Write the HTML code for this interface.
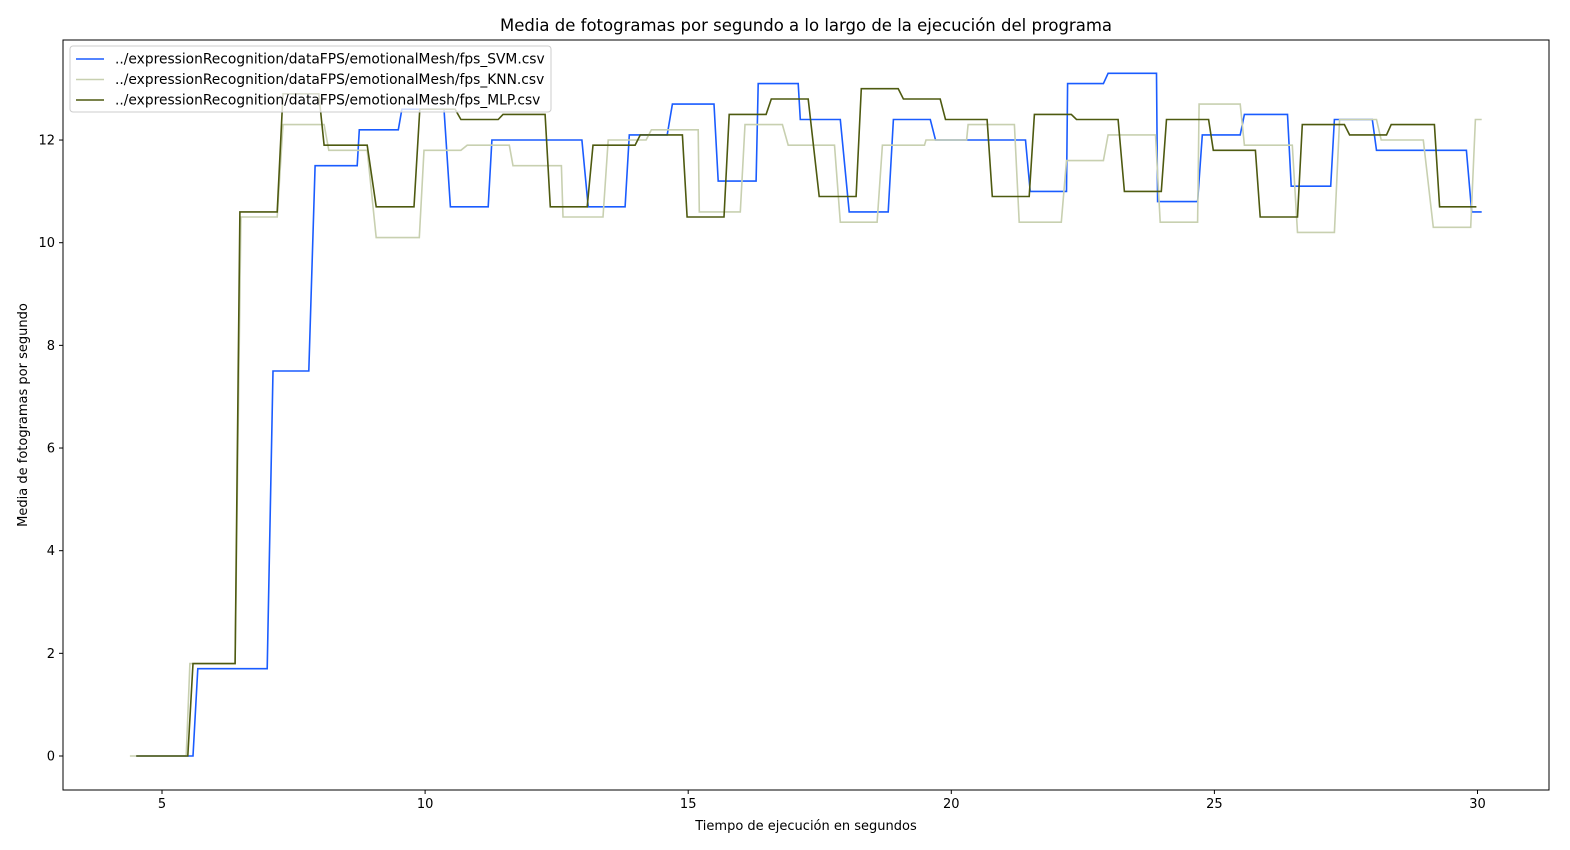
<!DOCTYPE html>
<html><head><meta charset="utf-8"><style>
body{margin:0;background:#fff;}
svg{display:block;font-family:"DejaVu Sans","Liberation Sans",sans-serif;}
</style></head><body>
<svg id="chart" width="1570" height="850">
<rect x="0" y="0" width="1570" height="850" fill="#fff"/>
<text x="806" y="31" text-anchor="middle" font-size="16.5">Media de fotogramas por segundo a lo largo de la ejecución del programa</text>
<text x="806" y="830" text-anchor="middle" font-size="13">Tiempo de ejecución en segundos</text>
<text transform="translate(27,415) rotate(-90)" text-anchor="middle" font-size="13">Media de fotogramas por segundo</text>
<g id="plot"></g>
</svg>
<script>
const xTicks=[5,10,15,20,25,30];
const yTicks=[0,2,4,6,8,10,12];
const seriesNames=["../expressionRecognition/dataFPS/emotionalMesh/fps_SVM.csv","../expressionRecognition/dataFPS/emotionalMesh/fps_KNN.csv","../expressionRecognition/dataFPS/emotionalMesh/fps_MLP.csv"];
const svmSegs=[[4.51,5.59,0],[5.68,7.00,1.7],[7.11,7.79,7.5],[7.91,8.71,11.5],[8.75,9.49,12.2],[9.56,10.36,12.6],[10.48,11.20,10.7],[11.27,12.98,12.0],[13.10,13.80,10.7],[13.88,14.60,12.1],[14.70,15.49,12.7],[15.57,16.29,11.2],[16.33,17.09,13.1],[17.13,17.89,12.4],[18.06,18.80,10.6],[18.90,19.60,12.4],[19.70,21.41,12.0],[21.50,22.19,11.0],[22.21,22.89,13.1],[22.98,23.90,13.3],[23.92,24.68,10.8],[24.77,25.49,12.1],[25.57,26.39,12.5],[26.46,27.21,11.1],[27.28,28.00,12.4],[28.08,29.79,11.8],[29.89,30.08,10.6]];
const knnSegs=[[4.39,5.46,0],[5.53,6.39,1.8],[6.50,7.19,10.5],[7.30,8.08,12.3],[8.17,8.90,11.8],[9.07,9.89,10.1],[9.98,10.68,11.8],[10.80,11.60,11.9],[11.67,12.59,11.5],[12.62,13.38,10.5],[13.48,14.20,12.0],[14.30,15.19,12.2],[15.21,15.99,10.6],[16.08,16.79,12.3],[16.90,17.78,11.9],[17.89,18.59,10.4],[18.69,19.49,11.9],[19.52,20.29,12.0],[20.32,21.20,12.3],[21.29,22.09,10.4],[22.19,22.89,11.6],[22.98,23.88,12.1],[23.97,24.68,10.4],[24.71,25.49,12.7],[25.57,26.48,11.9],[26.58,27.28,10.2],[27.38,28.08,12.4],[28.17,28.97,12.0],[29.16,29.87,10.3],[29.96,30.08,12.4]];
const mlpSegs=[[4.51,5.49,0],[5.59,6.39,1.8],[6.48,7.19,10.6],[7.30,7.98,12.9],[8.08,8.90,11.9],[9.07,9.79,10.7],[9.90,10.57,12.6],[10.68,11.39,12.4],[11.48,12.28,12.5],[12.38,13.08,10.7],[13.19,13.99,11.9],[14.09,14.89,12.1],[14.98,15.68,10.5],[15.78,16.48,12.5],[16.58,17.28,12.8],[17.49,18.19,10.9],[18.29,18.99,13.0],[19.09,19.79,12.8],[19.89,20.68,12.4],[20.78,21.48,10.9],[21.58,22.28,12.5],[22.38,23.17,12.4],[23.29,23.99,11.0],[24.09,24.89,12.4],[24.98,25.78,11.8],[25.87,26.58,10.5],[26.67,27.47,12.3],[27.57,28.27,12.1],[28.36,29.18,12.3],[29.28,29.98,10.7]];

const L=63,R=1549,T=40,B=790;
const xs=v=>162+(v-5)*52.62;
const ys=v=>756-v*51.33;
const NS="http://www.w3.org/2000/svg";
const g=document.getElementById('plot');
function mk(t,a){const e=document.createElementNS(NS,t);for(const k in a)e.setAttribute(k,a[k]);g.appendChild(e);return e;}

const colors=["#1a5cff","#c8d0b0","#4e5a10"];
[svmSegs,knnSegs,mlpSegs].forEach((segs,i)=>{
  let d="";
  segs.forEach((s,j)=>{d+=(j?"L":"M")+xs(s[0]).toFixed(1)+","+ys(s[2]).toFixed(1)+"L"+xs(s[1]).toFixed(1)+","+ys(s[2]).toFixed(1);});
  const p=mk('path',{d:d,fill:"none",stroke:colors[i],"stroke-width":1.6});
  
  
});

const frame=mk('rect',{x:L,y:T,width:R-L,height:B-T,fill:"none",stroke:"#000","stroke-width":1});



xTicks.forEach(v=>{
  const x=xs(v);
  const t=mk('line',{x1:x,x2:x,y1:B,y2:B+4,stroke:"#000"});
  
  
  const l=mk('text',{x:x,y:B+18,"text-anchor":"middle","font-size":13});
  l.textContent=v;
  
  
});
yTicks.forEach(v=>{
  const y=ys(v);
  const t=mk('line',{x1:L-4,x2:L,y1:y,y2:y,stroke:"#000"});
  
  
  const l=mk('text',{x:L-8,y:y+4.5,"text-anchor":"end","font-size":13});
  l.textContent=v;
  
  
});

const lb=mk('rect',{x:70,y:46,width:481,height:66,rx:3,fill:"#fff","fill-opacity":0.8,stroke:"#ccc"});


seriesNames.forEach((n,i)=>{
  const y=59+i*20.5;
  const ln=mk('line',{x1:76,x2:104,y1:y,y2:y,stroke:colors[i],"stroke-width":1.6});
  
  
  const t=mk('text',{x:115,y:y+4.5,"font-size":13.8});
  t.textContent=n;
  
  
});
</script>
</body></html>
